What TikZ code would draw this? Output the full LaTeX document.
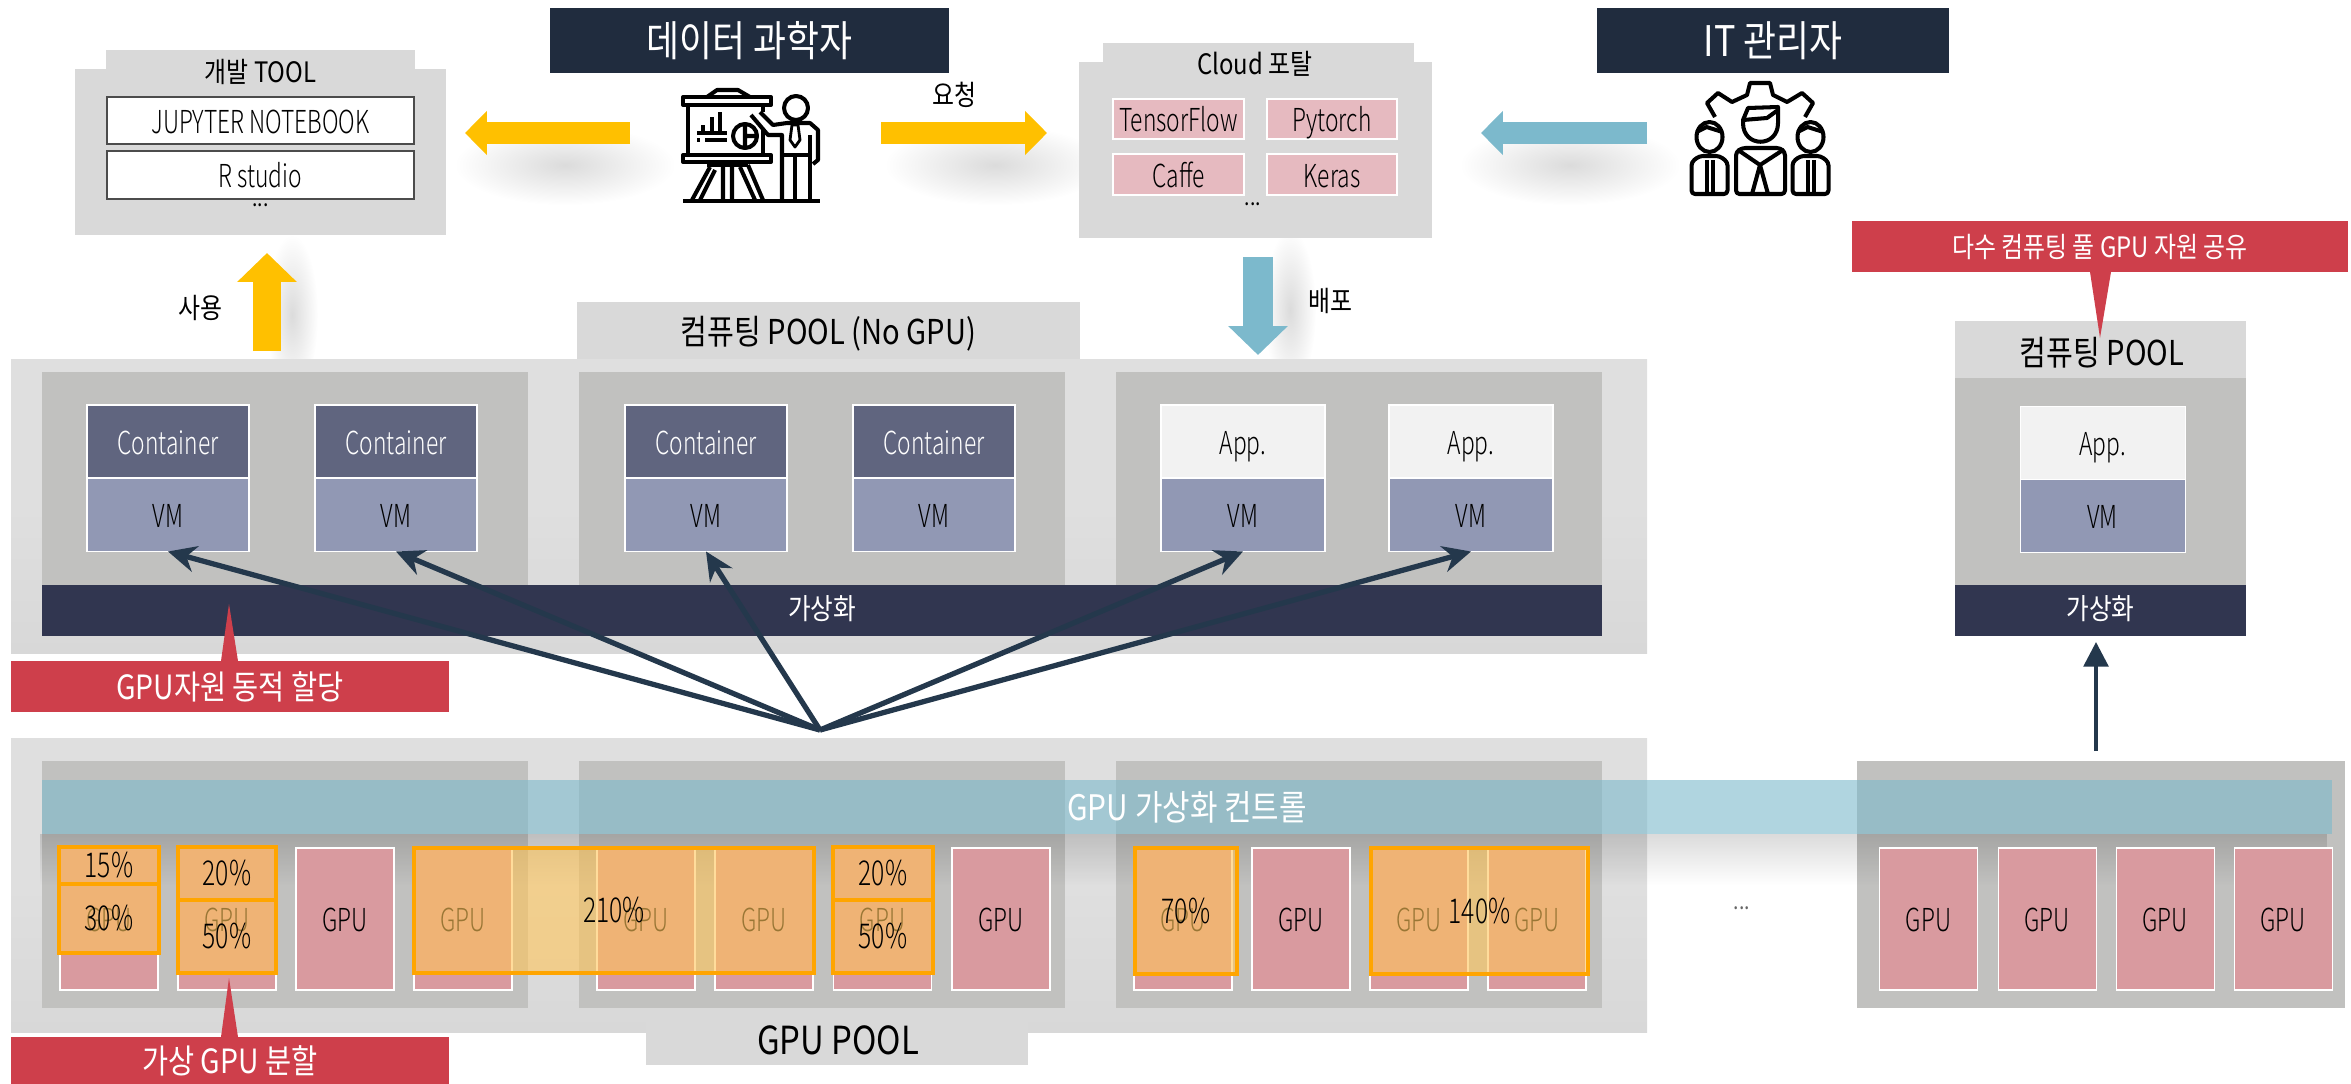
\documentclass[tikz,border=0pt]{standalone}
\usepackage{fontspec}
\setmainfont{Noto Sans CJK KR}[FakeStretch=0.85]
\newfontfamily\thinfont{Noto Sans CJK KR Light}[FakeStretch=0.72]
\usetikzlibrary{arrows.meta,fadings,calc}
\definecolor{poolbg}{HTML}{DFDFDF}
\definecolor{poolbot}{HTML}{D8D8D8}
\definecolor{poolgrey}{HTML}{C1C1BF}
\definecolor{tabgrey}{HTML}{D9D9D9}
\definecolor{headdark}{HTML}{202C3E}
\definecolor{virtdark}{HTML}{313650}
\definecolor{contblue}{HTML}{60657F}
\definecolor{vmblue}{HTML}{9198B4}
\definecolor{appwhite}{HTML}{F2F2F2}
\definecolor{gpupink}{HTML}{D99A9F}
\definecolor{fwpink}{HTML}{E6BAC0}
\definecolor{callred}{HTML}{CE3F4B}
\definecolor{arryellow}{HTML}{FFC000}
\definecolor{arrblue}{HTML}{7CB9CC}
\definecolor{ovrfill}{HTML}{FFC559}
\definecolor{ovrline}{HTML}{FFA500}
\definecolor{hubarrow}{HTML}{24384C}
\tikzfading[name=softblob, inner color=transparent!86, outer color=transparent!100]
\tikzset{
    sz/.style 2 args={minimum width=#1*0.02cm, minimum height=#2*0.02cm, inner sep=0pt, outer sep=0pt},
    fs/.style={font=\fontsize{#1}{#1}\selectfont},
    ft/.style={font=\thinfont\fontsize{#1}{#1}\selectfont, text height=14.5pt, text depth=0pt},
    flat/.style={rectangle, fill=#1},
    poolback/.style={rectangle, top color=poolbg, bottom color=poolbot, middle color=poolbg},
    title/.style={flat=headdark, text=white, fs=24},
    callout/.style={flat=callred, text=white},
    virtstrip/.style={flat=virtdark, text=white, fs=16.5, text depth=3pt},
    contbox/.style={rectangle, draw=white, line width=0.6pt, fill=contblue, text=white, ft=18},
    vmbox/.style={rectangle, draw=white, line width=0.6pt, fill=vmblue, ft=18},
    appbox/.style={rectangle, draw=white, line width=0.6pt, fill=appwhite, ft=18},
    gpubox/.style={rectangle, draw=white, line width=0.6pt, fill=gpupink, ft=18},
    fwbox/.style={rectangle, draw=white, line width=0.6pt, fill=fwpink, ft=18},
    toolbox/.style={rectangle, draw=black!70, line width=1.2pt, fill=white, ft=18},
    ovrbox/.style={rectangle, draw=ovrline, line width=2.6pt, fill=ovrfill, fill opacity=0.6, draw opacity=1, text opacity=1, font=\thinfont\fontsize{19.5}{19.5}\selectfont},
    plain/.style={inner sep=0pt, fs=#1},
    bigyellow/.style={line width=12.5pt, arryellow, -{Triangle[length=12.5pt,width=24.5pt]}},
    bigblue/.style={line width=12.5pt, arrblue, -{Triangle[length=12.5pt,width=24.5pt]}},
    hubline/.style={line width=3pt, hubarrow, -{Stealth[length=16pt,width=15pt]}},
    icon/.style={line width=2.3pt, line join=round, black},
    blob/.style={black, path fading=softblob}
}
\begin{document}
\begin{tikzpicture}[x=0.02cm, y=-0.02cm]
    \useasboundingbox (0,0) rectangle (2351,1084);

    % soft shadows under the block arrows
    \foreach \sx/\sy/\rx/\ry in {565/165/110/40, 995/165/110/40, 1570/165/110/40, 292/315/26/80, 1290/310/26/80}
        \fill[blob] (\sx,\sy) ellipse ({\rx} and {\ry});

    % top row
    \node[title, sz={399}{65}] (scientist) at (749.5,40.5) {데이터 과학자};
    \node[title, sz={352}{65}] (itadmin) at (1773,40.5) {IT 관리자};

    \node[flat=tabgrey, sz={309}{40}] (devtab) at (260.5,70) {};
    \node[flat=tabgrey, sz={371}{166}] (devbody) at (260.5,152) {};
    \node[plain=16] (devtitle) at (260.5,72) {개발 TOOL};
    \node[toolbox, sz={307}{47}] (jupyter) at (260.5,120.5) {JUPYTER NOTEBOOK};
    \node[toolbox, sz={307}{48}] (rstudio) at (260.5,175) {R studio};
    \node[plain=13] (devdots) at (260.5,205) {...};

    \node[flat=tabgrey, sz={311}{40}] (cloudtab) at (1258.5,63) {};
    \node[flat=tabgrey, sz={353}{176}] (cloudbody) at (1255.5,150) {};
    \node[plain=16] (cloudtitle) at (1255,64) {Cloud 포탈};
    \node[fwbox, sz={131}{40}] (tensorflow) at (1178.5,119) {TensorFlow};
    \node[fwbox, sz={130}{40}] (pytorch) at (1332,119) {Pytorch};
    \node[fwbox, sz={131}{41}] (caffe) at (1178.5,174.5) {Caffe};
    \node[fwbox, sz={130}{41}] (keras) at (1332,174.5) {Keras};
    \node[plain=13] (clouddots) at (1253,204) {...};

    % block arrows
    \coordinate (yleftS) at (630,133);
    \coordinate (yleftE) at (465,133);
    \coordinate (yrightS) at (881,133);
    \coordinate (yrightE) at (1047,133);
    \coordinate (bleftS) at (1647,133);
    \coordinate (bleftE) at (1481,133);
    \coordinate (yupS) at (267,351);
    \coordinate (yupE) at (267,253);
    \coordinate (bdownS) at (1258,257);
    \coordinate (bdownE) at (1258,355);
    \draw[bigyellow] (yleftS) -- (yleftE);
    \draw[bigyellow] (yrightS) -- (yrightE);
    \draw[bigblue] (bleftS) -- (bleftE);
    \draw[arryellow, line width=16.5pt, -{Triangle[length=16.5pt,width=33pt]}] (yupS) -- (yupE);
    \draw[arrblue, line width=17pt, -{Triangle[length=16.5pt,width=33pt]}] (bdownS) -- (bdownE);
    \node[plain=16] (lblrequest) at (954,95) {요청};
    \node[plain=16] (lbluse) at (200,308) {사용};
    \node[plain=16] (lbldeploy) at (1330,301) {배포};

    % presenter icon
    \draw[icon] (683,97) rectangle (771,105);
    \draw[icon] (707,97) -- (717,90) -- (738,90) -- (750,97);
    \draw[icon] (688,105) -- (688,155) (763,105) -- (763,112) (763,128) -- (763,155);
    \draw[icon] (683,155) rectangle (771,162);
    \draw[icon] (697,133) -- (727,133) (703,133) -- (703,125) (712,133) -- (712,117) (720,133) -- (720,112);
    \draw[icon] (697,140) -- (700,140) (705,140) -- (727,140);
    \draw[icon] (745,136) circle (12) (745,124) -- (745,148) (745,136) -- (757,136);
    \draw[icon] (707,165) -- (748,165);
    \draw[icon] (710,167) -- (692,200) (715,170) -- (700,200) (723,167) -- (723,200) (732,167) -- (732,200) (740,167) -- (755,200) (748,165) -- (763,200);
    \draw[icon, line width=2.6pt] (683,201) -- (820,201);
    \draw[icon] (796,108) circle (12);
    \draw[icon] (760,112) -- (773,125) -- (787,123) -- (810,123) -- (818,130) -- (818,160) -- (813,164);
    \draw[icon] (751,115) -- (768,135) -- (782,135) -- (782,200);
    \draw[icon] (810,135) -- (810,200) (795,155) -- (795,200) (782,155) -- (810,155);
    \draw[icon, line width=1.6pt] (792,125) -- (798,125) -- (800,140) -- (795,147) -- (790,140) -- cycle;

    % admin icon
    \draw[icon] (1715,117) -- (1707,103) -- (1718,93) -- (1732,102) -- (1747,95) -- (1750,83) -- (1770,83) -- (1773,95) -- (1787,102) -- (1802,93) -- (1813,103) -- (1805,117);
    \draw[icon] (1743,120) -- (1748,108) -- (1778,107) -- (1778,123) .. controls (1778,148) and (1743,148) .. (1743,123) -- cycle;
    \draw[icon] (1743,120) -- (1767,118) -- (1778,110);
    \draw[icon, rounded corners=2pt] (1736,194) -- (1736,152) -- (1742,148) -- (1780,148) -- (1785,152) -- (1785,194) -- cycle;
    \draw[icon] (1738,150) -- (1760,165) -- (1783,150) (1760,165) -- (1752,194) (1760,165) -- (1768,194);
    \foreach \px in {1709.5,1810.5} {
        \draw[icon] (\px,137) ellipse (13 and 15);
        \draw[icon] (\px-13,132) -- (\px-3,127) -- (\px+13,132);
        \draw[icon, rounded corners=2pt] (\px-18,194) -- (\px-18,162) -- (\px-10,156) -- (\px+10,156) -- (\px+18,162) -- (\px+18,194) -- cycle;
        \draw[icon] (\px-3,160) -- (\px-3,194) (\px+3,160) -- (\px+3,194);
    }

    % compute pools
    \node[flat=tabgrey, sz={503}{60}] (comptab) at (828.5,332) {};
    \node[plain=19.5] (comptitle) at (828.5,334) {컴퓨팅 POOL (No GPU)};
    \node[poolback, sz={1636}{294}] (compbg) at (829,506) {};
    \foreach \nm/\cx in {comp1/285, comp2/822, comp3/1359}
        \node[flat=poolgrey, sz={486}{213}] (\nm) at (\cx,478.5) {};

    % containers, apps and their vms
    \foreach \cx [count=\ci] in {168,396,706,934}
        \node[contbox, sz={162}{73}] (cont\ci) at (\cx,441.5) {Container};
    \foreach \cx [count=\ci from 5] in {1243,1471}
        \node[appbox, sz={164}{73}] (cont\ci) at (\cx,441.5) {App.};
    \foreach \cx [count=\ci] in {168,396,706,934,1243,1471}
        \node[vmbox, sz={\ifnum\ci>4 164\else 162\fi}{73}] (vm\ci) at (\cx,515) {VM};
    \node[virtstrip, sz={1560}{51}] (virtbar) at (822,610.5) {가상화};

    % right compute pool
    \node[flat=tabgrey, sz={291}{57}] (righttab) at (2100.5,349.5) {};
    \node[plain=19.5] (righttitle) at (2102,353) {컴퓨팅 POOL};
    \node[flat=poolgrey, sz={291}{207}] (rightpool) at (2100.5,481.5) {};
    \node[appbox, sz={165}{73}] (rightapp) at (2102.5,443) {App.};
    \node[vmbox, sz={165}{73}] (rightvm) at (2102.5,516) {VM};
    \node[virtstrip, sz={291}{51}] (rightvirt) at (2100.5,610.5) {가상화};

    % gpu pools
    \node[poolback, sz={1636}{294}] (gpubg) at (829,885) {};
    \node[flat=tabgrey, sz={382}{57}] (gputab) at (837,1036.5) {};
    \node[plain=22] (gputitle) at (838,1040) {GPU POOL};
    \foreach \nm/\cx/\cw in {gpool1/285/486, gpool2/822/486, gpool3/1359/486, gpool4/2101/488}
        \node[flat=poolgrey, sz={\cw}{247}] (\nm) at (\cx,884.5) {};
    \fill[black, path fading=south, opacity=0.14] (42,834) rectangle (2332,885);
    \foreach \cx [count=\ci] in {109,227,345,463,646,764,882.5,1001,1183,1301,1419,1537,1928.5,2047,2165,2283}
        \node[gpubox, sz={98}{142}] (gpu\ci) at (\cx,919) {GPU};
    \node[flat=arrblue, fill opacity=0.6, text opacity=1, text=white, sz={2290}{54}, fs=20] (gpuctrl) at (1187,807) {GPU 가상화 컨트롤};
    \node[plain=13, text=black!60] (gpudots) at (1742,908) {...};

    % virtual gpu shares
    \node[ovrbox, sz={100}{37}] (sh15) at (109,865.5) {15\%};
    \node[ovrbox, sz={100}{69}] (sh30) at (109,918.5) {30\%};
    \node[ovrbox, sz={98}{53}] (sh20a) at (227,873.5) {20\%};
    \node[ovrbox, sz={98}{73}] (sh50a) at (227,936.5) {50\%};
    \node[ovrbox, sz={400}{125}] (sh210) at (614,910.5) {210\%};
    \node[ovrbox, sz={100}{53}] (sh20b) at (883,873.5) {20\%};
    \node[ovrbox, sz={100}{73}] (sh50b) at (883,936.5) {50\%};
    \node[ovrbox, sz={102}{126}] (sh70) at (1186,911) {70\%};
    \node[ovrbox, sz={217}{126}] (sh140) at (1479.5,911) {140\%};

    % callouts
    \node[callout, sz={438}{51}, fs=19] (callalloc) at (230,686.5) {GPU자원 동적 할당};
    \fill[callred] (221,661) -- (229,604) -- (238,661) -- cycle;
    \node[callout, sz={438}{47}, fs=19] (callsplit) at (230,1060.5) {가상 GPU 분할};
    \fill[callred] (221,1037) -- (229,978) -- (238,1037) -- cycle;
    \node[callout, sz={496}{51}, fs=16] (callshare) at (2100,246.5) {다수 컴퓨팅 풀 GPU 자원 공유};
    \fill[callred] (2090,272) -- (2100,338) -- (2111,272) -- cycle;

    % gpu allocation arrows
    \coordinate (hub) at (820,730);
    \foreach \ci in {1,2,3,5,6}
        \draw[hubline] (hub) -- (vm\ci.south);
    \coordinate (rightfoot) at (2096,751);
    \coordinate (righttip) at (2096,642);
    \draw[hubline, line width=2.2pt, -{Stealth[length=14pt,width=14pt,inset=0pt]}] (rightfoot) -- (righttip);
\end{tikzpicture}
\end{document}
